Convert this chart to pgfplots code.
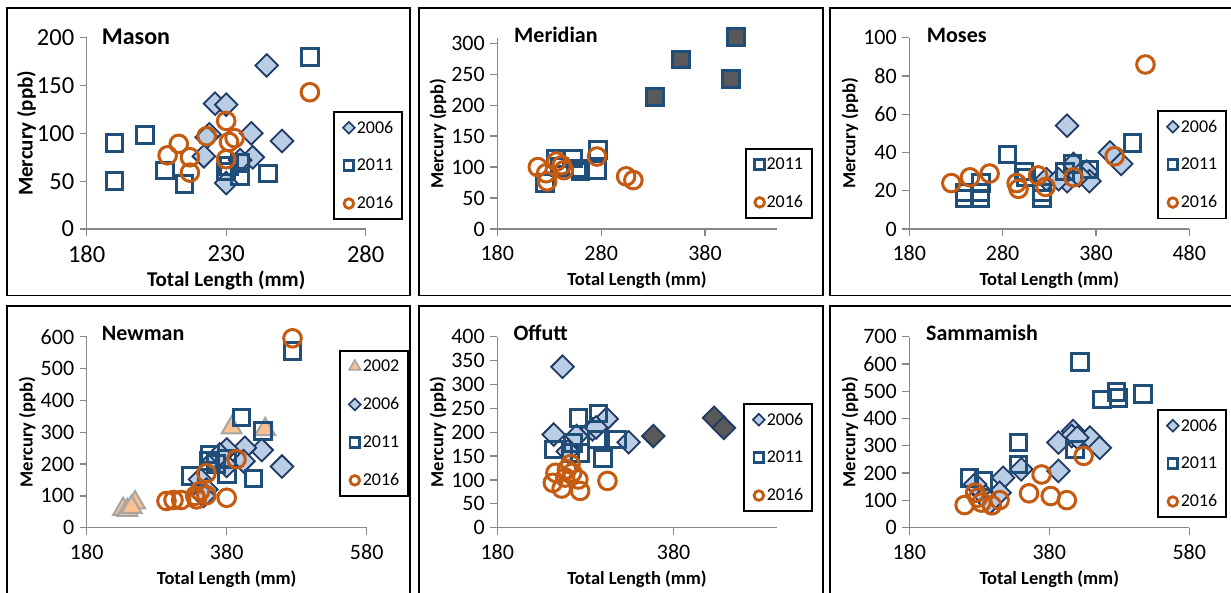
\documentclass[border=0pt]{standalone}
\usepackage{fontspec}
\setmainfont{Carlito}
\usepackage{pgfplots}
\pgfplotsset{compat=1.18}
\definecolor{axgray}{HTML}{868686}
\definecolor{dfill}{HTML}{B9CDE5}
\definecolor{dedge}{HTML}{1F3864}
\definecolor{sedge}{HTML}{1F4E79}
\definecolor{cedge}{HTML}{C55A11}
\definecolor{darkf}{HTML}{595959}
\definecolor{tfill}{HTML}{FAC090}
\definecolor{tedge}{HTML}{A6A6A6}
\pgfplotsset{
 panel/.style={
   scale only axis, anchor=south west, axis lines=left,
   axis line style={-, draw=axgray, line width=1.3pt},
   every tick/.style={draw=axgray, line width=1.3pt},
   tick align=outside, major tick length=7pt,
   clip=false, xmin=180, ymin=0,
   /pgf/number format/assume math mode=true,
   /pgf/number format/1000 sep={},
   ticklabel style={font=\fontsize{22}{22}\selectfont},
   xticklabel style={yshift=-6pt},
   yticklabel style={xshift=-2pt},
   xlabel={\textbf{Total Length (mm)}}, ylabel={\textbf{Mercury (ppb)}},
   label style={font=\fontsize{18.5}{18.5}\selectfont},
   xlabel style={at={([yshift=-57pt]axis description cs:0.5,0)}, anchor=base},
   ylabel style={at={([xshift=-54pt]axis description cs:0,0.5)}, anchor=base},
   legend cell align=left,
   legend image code/.code={\draw[#1] plot coordinates {(0pt,0pt)};},
   legend style={draw=black, line width=1.8pt, fill=white, anchor=north west,
     font=\fontsize{18}{18}\selectfont, inner xsep=9pt, inner ysep=9pt,
     row sep=24.5pt, column sep=2pt, nodes={inner sep=0pt, anchor=west}},
 },
 s2006/.style={only marks, mark=square*, mark size=8pt, draw=dedge, fill=dfill, line width=1.8pt, mark options={rotate=45},
   legend image post style={mark size=4.2pt, line width=1.6pt}},
 s2006d/.style={only marks, mark=square*, mark size=8pt, draw=dedge, fill=darkf, line width=1.8pt, mark options={rotate=45}},
 s2011/.style={only marks, mark=square, mark size=8.3pt, draw=sedge, line width=3pt,
   legend image post style={mark size=4.8pt, line width=2.8pt}},
 s2011d/.style={only marks, mark=square*, mark size=8.3pt, draw=sedge, fill=darkf, line width=3pt},
 s2016/.style={only marks, mark=o, mark size=8.8pt, draw=cedge, line width=3pt,
   legend image post style={mark size=4.8pt, line width=2.8pt}},
 s2002/.style={only marks, mark=triangle*, mark size=11.5pt, draw=tedge, fill=tfill, line width=2pt,
   legend image post style={mark size=6.5pt, line width=1.6pt}},
}
\begin{document}
\begin{tikzpicture}[x=1pt,y=1pt]
\useasboundingbox (0,0) rectangle (1231,592);
\fill[white] (0,0) rectangle (1231,592);
% frames
\begin{scope}[line width=1.8pt]
\draw (7,584) rectangle (410,296.5);
\draw (419,584) rectangle (823,296.5);
\draw (830,584) rectangle (1234,296.5);
\draw (7,286.3) rectangle (410,-3);
\draw (419,286.3) rectangle (823,-3);
\draw (830,286.3) rectangle (1234,-3);
\end{scope}

% Mason
\begin{axis}[panel, at={(86.7pt,363pt)}, width=279pt, height=191.3pt,
  xmax=280, ymax=200, xtick={180,230,280}, ytick={0,50,...,200},
  ticklabel style={font=\fontsize{24.5}{24.5}\selectfont},
  label style={font=\fontsize{21}{21}\selectfont},
  xlabel style={at={([yshift=-58pt]axis description cs:0.5,0)}},
  legend style={at={(0.8828,0.6168)}}]
\addplot[s2006] coordinates {(244.5,171) (226,131) (230,130) (224,99) (223,96) (222,76) (239,100) (239.5,75) (250,92) (230,48) (235,72)};
\addlegendentry{2006}
\addplot[s2011] coordinates {(260,180) (190,90) (190,50) (201,98) (208,61) (215,47) (230,60) (235,69) (235,55) (245,58) (231,66)};
\addlegendentry{2011}
\addplot[s2016] coordinates {(260,143) (230,113) (233,95) (231,91) (223,97) (213,89) (209,77) (217,75) (217,59) (230,73)};
\addlegendentry{2016}
\end{axis}

% Meridian
\begin{axis}[panel, at={(497.3pt,363pt)}, width=279.4pt, height=190.7pt,
  xmax=449, ymax=308, xtick={180,280,380}, ytick={0,50,...,300},
  legend style={at={(0.8865,0.4248)}}]
\addplot[s2011] coordinates {(277,128) (276,95) (236,114) (253,114) (260,93) (226,74) (240,100) (257,98)};
\addlegendentry{2011}
\addplot[s2011d, forget plot] coordinates {(410,310) (357,274) (405,242) (332,213)};
\addplot[s2016] coordinates {(219,100) (227,90) (228,77) (237,109) (244,95) (242,103) (276,117) (304,85) (311,79)};
\addlegendentry{2016}
\end{axis}

% Moses
\begin{axis}[panel, at={(909.3pt,363pt)}, width=280pt, height=191.3pt,
  xmax=480, ymax=100, xtick={180,280,380,480}, ytick={0,20,...,100},
  legend style={at={(0.8846,0.622)}}]
\addplot[s2006] coordinates {(349,54) (395,40) (407,34) (356,34) (349,25) (370,30) (373,25) (327,26) (362,28) (340,26)};
\addlegendentry{2006}
\addplot[s2011] coordinates {(285,39) (303,30) (419,45) (347,30) (355,34) (373,31) (257,24) (239,16) (239,19) (256,16) (256,19) (322,16) (322,19) (305,27)};
\addlegendentry{2011}
\addplot[s2016] coordinates {(433,86) (225,24) (245,27) (266,29) (295,24) (297,21) (318,28) (326,22) (356,27) (400,38)};
\addlegendentry{2016}
\end{axis}

% Newman
\begin{axis}[panel, at={(86.7pt,64.3pt)}, width=280pt, height=191pt,
  xmax=580, ymax=600, xtick={180,380,580}, ytick={0,100,...,600},
  legend style={at={(0.901,0.930)}}]
\addplot[s2002] coordinates {(232,58) (249,79) (238,55) (387,314) (435,309) (244,65)};
\addlegendentry{2002}
\addplot[s2006] coordinates {(459,192) (430,244) (406,251) (404,209) (380,246) (361,209) (380,194) (342,152) (351,120) (347,100) (370,230)};
\addlegendentry{2006}
\addplot[s2011] coordinates {(474,555) (401,346) (432,304) (418,154) (328,162) (356,230) (354,209) (380,215) (380,167) (365,200)};
\addlegendentry{2011}
\addplot[s2016] coordinates {(474,595) (394,215) (351,171) (294,84) (304,87) (315,87) (337,89) (342,115) (351,102) (380,94) (335,100)};
\addlegendentry{2016}
\end{axis}

% Offutt
\begin{axis}[panel, at={(497.3pt,64.3pt)}, width=279.4pt, height=191pt,
  xmax=497, ymax=400, xtick={180,380}, ytick={0,50,...,400},
  legend style={at={(0.8794,0.653)}}]
\addplot[s2006] coordinates {(254,337) (244,195) (270,192) (288,206) (304,228) (329,179) (260,160) (292,210)};
\addlegendentry{2006}
\addplot[s2006d, forget plot] coordinates {(357,192) (426,230) (437,209)};
\addplot[s2011] coordinates {(272,230) (295,239) (316,185) (300,145) (244,164) (266,178) (274,157) (263,157) (293,185)};
\addlegendentry{2011}
\addplot[s2016] coordinates {(305,98) (243,94) (253,82) (274,77) (246,115) (259,122) (263,133) (257,105) (272,101) (265,115)};
\addlegendentry{2016}
\end{axis}

% Sammamish
\begin{axis}[panel, at={(909.3pt,64.3pt)}, width=280pt, height=191pt,
  xmax=580, ymax=700, xtick={180,380,580}, ytick={0,100,...,700},
  legend style={at={(0.8846,0.6215)}}]
\addplot[s2006] coordinates {(414,354) (412,336) (438,330) (452,293) (393,312) (393,208) (340,214) (314,183) (309,128) (286,122) (274,159) (295,92) (420,330)};
\addlegendentry{2006}
\addplot[s2011] coordinates {(424,608) (476,498) (479,476) (455,470) (514,491) (336,312) (336,232) (266,183) (286,171) (417,287)};
\addlegendentry{2011}
\addplot[s2016] coordinates {(429,263) (369,195) (351,126) (382,116) (405,101) (259,83) (274,128) (283,92) (298,82) (309,101) (278,110)};
\addlegendentry{2016}
\end{axis}

% titles
\node[anchor=base west, font=\bfseries\fontsize{24}{24}\selectfont, inner sep=0pt] at (101.7,547.7) {Mason};
\node[anchor=base west, font=\bfseries\fontsize{22}{22}\selectfont, inner sep=0pt] at (514,549.7) {Meridian};
\node[anchor=base west, font=\bfseries\fontsize{22}{22}\selectfont, inner sep=0pt] at (926.7,549.7) {Moses};
\node[anchor=base west, font=\bfseries\fontsize{22}{22}\selectfont, inner sep=0pt] at (101.7,251.7) {Newman};
\node[anchor=base west, font=\bfseries\fontsize{22}{22}\selectfont, inner sep=0pt] at (513.3,251.7) {Offutt};
\node[anchor=base west, font=\bfseries\fontsize{22}{22}\selectfont, inner sep=0pt] at (926,251.7) {Sammamish};
\end{tikzpicture}
\end{document}
